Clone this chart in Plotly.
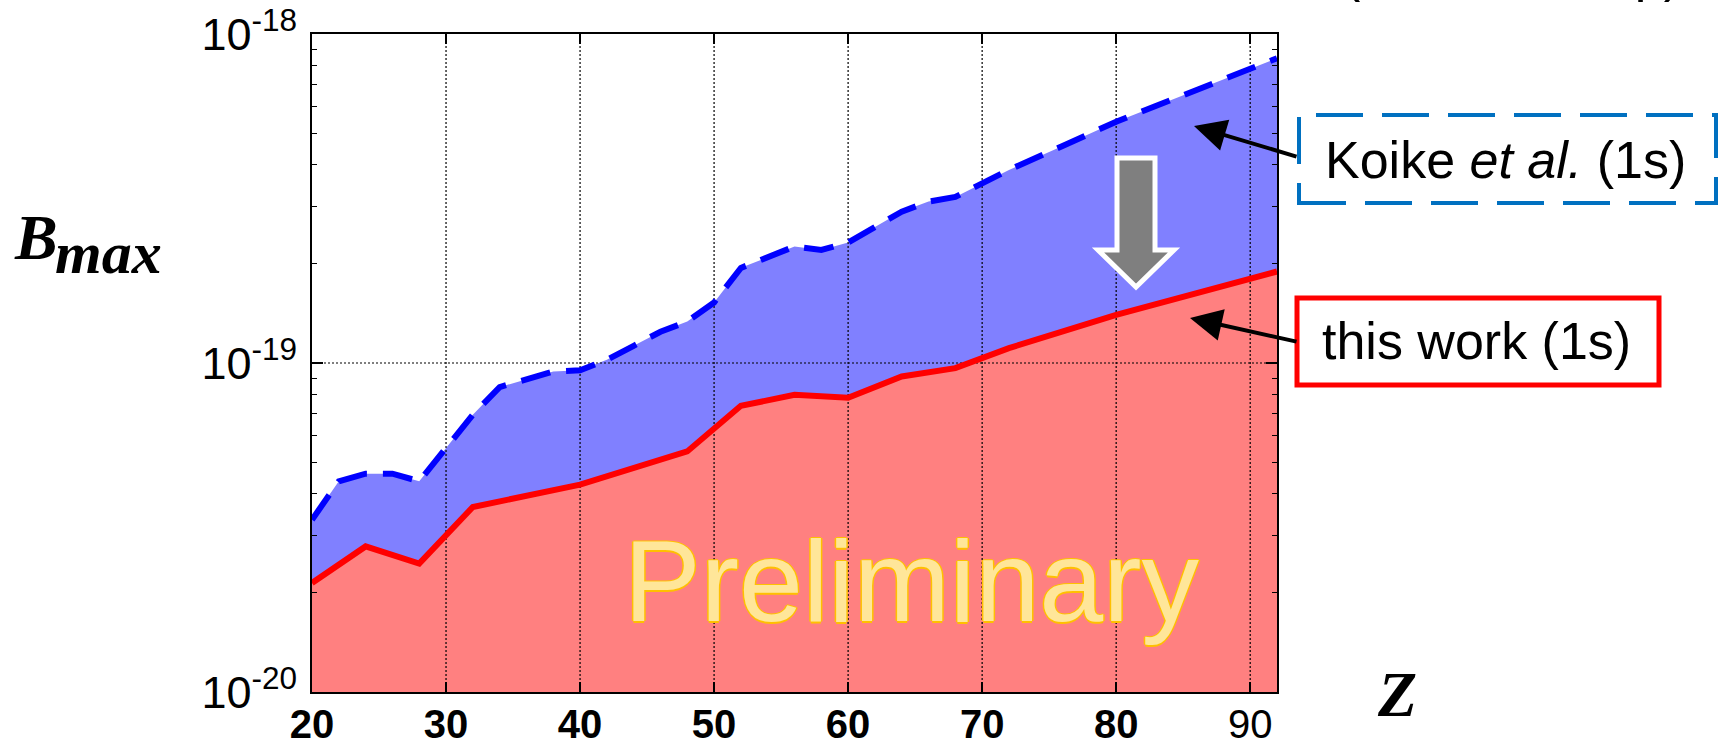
import plotly.graph_objects as go

# ---- data ---------------------------------------------------------------
# Koike et al. (1s) upper bound
Z_KOIKE = [20, 22, 24, 26, 28, 30, 32, 34, 38, 40, 42, 44, 46, 48, 50, 52,
           56, 58, 60, 64, 66, 68, 72, 76, 80, 92]
B_KOIKE = [3.34e-20, 4.37e-20, 4.61e-20, 4.61e-20, 4.37e-20, 5.53e-20,
           6.96e-20, 8.45e-20, 9.42e-20, 9.50e-20, 1.023e-19, 1.128e-19,
           1.244e-19, 1.337e-19, 1.527e-19, 1.946e-19, 2.259e-19, 2.207e-19,
           2.323e-19, 2.885e-19, 3.094e-19, 3.197e-19, 3.862e-19, 4.567e-19,
           5.415e-19, 8.44e-19]

# this work (1s)
Z_THIS = [20, 24, 28, 32, 40, 48, 52, 56, 60, 64, 68, 72, 80, 92]
B_THIS = [2.145e-20, 2.77e-20, 2.455e-20, 3.65e-20, 4.27e-20, 5.385e-20,
          7.41e-20, 8.005e-20, 7.84e-20, 9.10e-20, 9.65e-20, 1.110e-19,
          1.401e-19, 1.897e-19]

X_RANGE = [20, 92]
Y_FLOOR, Y_CEIL = 1e-20, 1e-18

X_TICKS = [20, 30, 40, 50, 60, 70, 80, 90]
X_TICKTEXT = ["<b>20</b>", "<b>30</b>", "<b>40</b>", "<b>50</b>",
              "<b>60</b>", "<b>70</b>", "<b>80</b>", "90"]
Y_TICKS = [1e-20, 1e-19, 1e-18]
Y_TICKTEXT = ["10<sup>-20</sup>", "10<sup>-19</sup>", "10<sup>-18</sup>"]

X_GRID = [30, 40, 50, 60, 70, 80, 90]
Y_GRID = [1e-19]

# ---- canvas geometry ----------------------------------------------------
W, H = 1723, 749
ML, MR, MT, MB = 312, 446, 34, 57
PW, PH = W - ML - MR, H - MT - MB


def px(x):
    return (x - ML) / PW


def py(y):
    return 1 - (y - MT) / PH


SANS = "Liberation Sans, Arial, sans-serif"
SERIF = "Liberation Serif, Times New Roman, serif"

fig = go.Figure()

# filled areas (closed down to the axis floor)
fig.add_trace(go.Scatter(
    x=Z_KOIKE + [Z_KOIKE[-1], Z_KOIKE[0]],
    y=B_KOIKE + [Y_FLOOR, Y_FLOOR],
    fill="toself", fillcolor="#8080FF", mode="lines",
    line=dict(width=0), hoverinfo="skip", showlegend=False))
fig.add_trace(go.Scatter(
    x=Z_THIS + [Z_THIS[-1], Z_THIS[0]],
    y=B_THIS + [Y_FLOOR, Y_FLOOR],
    fill="toself", fillcolor="#FF8080", mode="lines",
    line=dict(width=0), hoverinfo="skip", showlegend=False))

# dotted grid drawn over the filled areas
gx, gy = [], []
for z in X_GRID:
    gx += [z, z, None]
    gy += [Y_FLOOR, Y_CEIL, None]
for b in Y_GRID:
    gx += [X_RANGE[0], X_RANGE[1], None]
    gy += [b, b, None]
fig.add_trace(go.Scatter(
    x=gx, y=gy, mode="lines",
    line=dict(color="black", width=1.2, dash="2px,2px"),
    hoverinfo="skip", showlegend=False))

# curves
fig.add_trace(go.Scatter(
    x=Z_THIS, y=B_THIS, mode="lines", name="this work (1s)",
    line=dict(color="#FF0000", width=6), showlegend=False))
fig.add_trace(go.Scatter(
    x=Z_KOIKE, y=B_KOIKE, mode="lines", name="Koike et al. (1s)",
    line=dict(color="#0000FF", width=6, dash="30px,16px"), showlegend=False))

# ---- axes ---------------------------------------------------------------
fig.update_xaxes(
    range=X_RANGE, showgrid=False, zeroline=False, automargin=False,
    showline=True, linecolor="black", linewidth=2, mirror="ticks",
    ticks="inside", ticklen=10, tickwidth=1.5, tickcolor="black",
    tickvals=X_TICKS, ticktext=X_TICKTEXT,
    tickfont=dict(family=SANS, size=40, color="black"),
    ticklabelstandoff=-4, ticklabeloverflow="allow")
fig.update_yaxes(
    type="log", range=[-20, -18], showgrid=False, zeroline=False,
    automargin=False,
    showline=True, linecolor="black", linewidth=2, mirror="ticks",
    ticks="inside", ticklen=11, tickwidth=1.5, tickcolor="black",
    tickvals=Y_TICKS, ticktext=Y_TICKTEXT,
    tickfont=dict(family=SANS, size=45, color="black"),
    ticklabelstandoff=4, ticklabeloverflow="allow",
    minor=dict(ticks="inside", ticklen=5, tickwidth=1.2,
               tickcolor="black", dtick="D1", showgrid=False))

# ---- decorations ----------------------------------------------------------
shapes = [
    # legend-style boxes
    dict(type="rect", xref="paper", yref="paper",
         x0=px(1299), x1=px(1716), y0=py(203), y1=py(115),
         line=dict(color="#0070C0", width=4, dash="47px,19px"),
         fillcolor="rgba(0,0,0,0)", layer="above"),
    dict(type="rect", xref="paper", yref="paper",
         x0=px(1297), x1=px(1659), y0=py(385), y1=py(298),
         line=dict(color="#FF0000", width=5),
         fillcolor="white", layer="above"),
]

# grey block arrow pointing down
arrow_pts = [(1117, 158), (1155, 158), (1155, 250), (1174, 250),
             (1136, 287), (1098, 250), (1117, 250)]
path = "M " + " L ".join(f"{px(a):.5f},{py(b):.5f}" for a, b in arrow_pts) + " Z"
shapes.append(dict(type="path", xref="paper", yref="paper", path=path,
                   fillcolor="#7F7F7F", line=dict(color="white", width=5),
                   layer="above"))

annotations = [
    # caption line running off the top edge
    dict(text="(from 1s to 2p)", x=px(1512), y=py(4),
         xref="paper", yref="paper", showarrow=False,
         xanchor="center", yanchor="bottom",
         font=dict(family=SANS, size=52, color="black")),
    dict(text="Koike <i>et al.</i> (1s)", x=px(1505), y=py(160),
         xref="paper", yref="paper", showarrow=False,
         xanchor="center", yanchor="middle",
         font=dict(family=SANS, size=52, color="black")),
    dict(text="this work (1s)", x=px(1476), y=py(341),
         xref="paper", yref="paper", showarrow=False,
         xanchor="center", yanchor="middle",
         font=dict(family=SANS, size=52, color="black")),
    # pointer arrows
    dict(text="", x=px(1194), y=py(126), xref="paper", yref="paper",
         showarrow=True, axref="pixel", ayref="pixel", ax=104, ay=31,
         arrowhead=2, arrowsize=1.6, arrowwidth=4, arrowcolor="black",
         standoff=0),
    dict(text="", x=px(1190), y=py(318), xref="paper", yref="paper",
         showarrow=True, axref="pixel", ayref="pixel", ax=108, ay=24,
         arrowhead=2, arrowsize=1.6, arrowwidth=4, arrowcolor="black",
         standoff=0),
    # watermark
    dict(text="Preliminary", x=px(912), y=py(581), xref="paper", yref="paper",
         showarrow=False, xanchor="center", yanchor="middle",
         font=dict(family=SANS, size=115, color="#FFE699",
                   shadow="1.5px 0 0 #FFC000, -1.5px 0 0 #FFC000, "
                          "0 1.5px 0 #FFC000, 0 -1.5px 0 #FFC000")),
    # axis titles
    dict(text="<b><i>B</i></b>", x=px(36), y=py(237), xref="paper",
         yref="paper", showarrow=False, xanchor="center", yanchor="middle",
         font=dict(family=SERIF, size=64, color="black")),
    dict(text="<b><i>max</i></b>", x=px(108), y=py(253), xref="paper",
         yref="paper", showarrow=False, xanchor="center", yanchor="middle",
         font=dict(family=SERIF, size=60, color="black")),
    dict(text="<b><i>Z</i></b>", x=px(1397), y=py(694), xref="paper",
         yref="paper", showarrow=False, xanchor="center", yanchor="middle",
         font=dict(family=SERIF, size=64, color="black")),
]

fig.update_layout(
    width=W, height=H,
    margin=dict(l=ML, r=MR, t=MT, b=MB, pad=0),
    paper_bgcolor="white", plot_bgcolor="white",
    shapes=shapes, annotations=annotations,
    showlegend=False)

fig.write_html("out.html", config={"displayModeBar": False})
